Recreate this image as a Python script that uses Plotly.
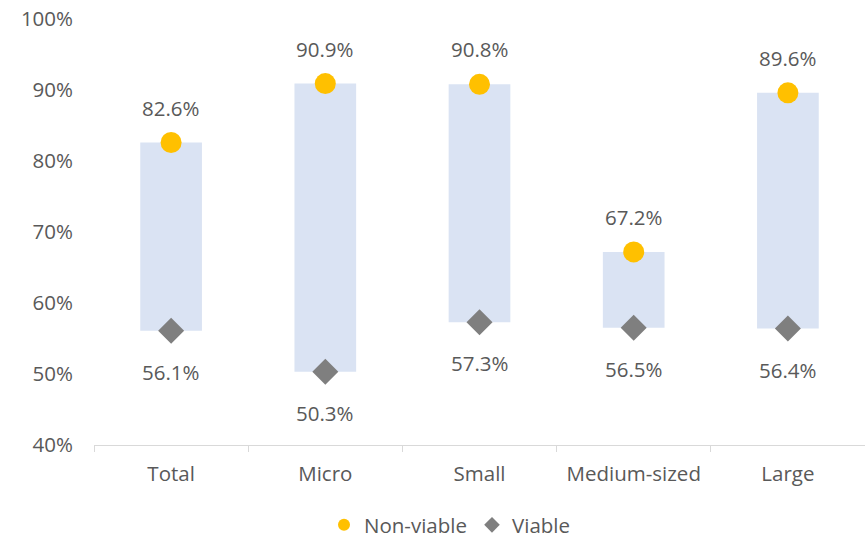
import plotly.graph_objects as go

categories = ["Total", "Micro", "Small", "Medium-sized", "Large"]
non_viable = [82.6, 90.9, 90.8, 67.2, 89.6]
viable = [56.1, 50.3, 57.3, 56.5, 56.4]
y_ticks = [40, 50, 60, 70, 80, 90, 100]

FONT = "Open Sans"
GREY = "#595959"
FS = 20.5

fig = go.Figure()
fig.add_trace(go.Bar(
    x=categories,
    y=[n - v for n, v in zip(non_viable, viable)],
    base=viable,
    width=0.4,
    marker=dict(color="#DAE3F3", line=dict(width=0)),
    showlegend=False,
    hoverinfo="skip",
))
fig.add_trace(go.Scatter(
    x=categories, y=non_viable, mode="markers", name="Non-viable",
    marker=dict(symbol="circle", size=21, color="#FFC000"),
))
fig.add_trace(go.Scatter(
    x=categories, y=viable, mode="markers", name="Viable",
    marker=dict(symbol="diamond", size=20, color="#7F7F7F"),
))

for c, n, v in zip(categories, non_viable, viable):
    fig.add_annotation(x=c, y=n, text=f"{n:.1f}%", showarrow=False,
                       yshift=35, font=dict(family=FONT, size=FS, color=GREY))
    fig.add_annotation(x=c, y=v, text=f"{v:.1f}%", showarrow=False,
                       yshift=-41, font=dict(family=FONT, size=FS, color=GREY))

fig.update_layout(
    width=865, height=539,
    margin=dict(l=94, r=0, t=19, b=94, autoexpand=False),
    plot_bgcolor="white", paper_bgcolor="white",
    font=dict(family=FONT, size=FS, color=GREY),
    legend=dict(orientation="h", xref="container", yref="container",
                x=450 / 865, xanchor="center", y=14 / 539, yanchor="middle",
                font=dict(family=FONT, size=FS, color=GREY), itemwidth=30,
                itemsizing="constant", traceorder="normal",
                bgcolor="rgba(0,0,0,0)"),
    xaxis=dict(
        range=[-0.5, 4.5], showline=True, linecolor="#D9D9D9", linewidth=1,
        ticks="outside", tickson="boundaries", ticklen=6, tickcolor="#D9D9D9",
        showgrid=False, ticklabelstandoff=10, automargin=False,
        tickfont=dict(family=FONT, size=FS, color=GREY),
    ),
    yaxis=dict(
        range=[40, 100], tickvals=y_ticks, ticktext=[f"{t}%" for t in y_ticks],
        showgrid=False, zeroline=False, showline=False, ticks="",
        ticklabelstandoff=20, automargin=False,
        tickfont=dict(family=FONT, size=FS, color=GREY),
    ),
)

fig.write_html("out.html")
